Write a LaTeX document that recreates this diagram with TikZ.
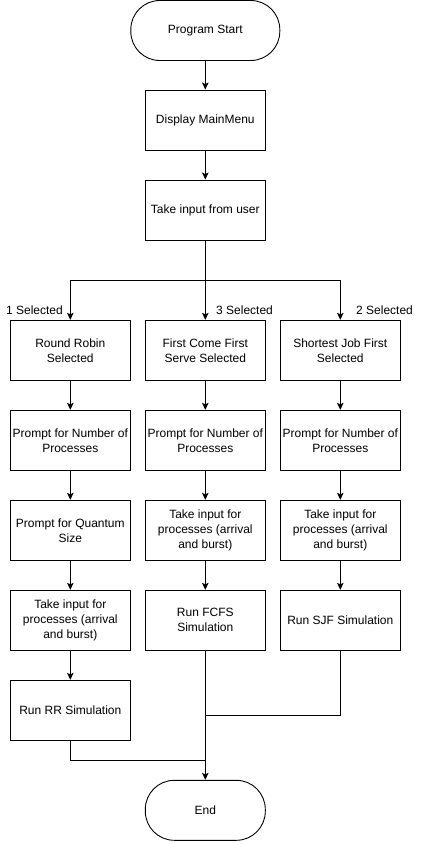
\documentclass[tikz,border=0pt]{standalone}
\usepackage{fontspec}
\setmainfont{Liberation Sans}
\usetikzlibrary{arrows.meta}
\begin{document}
\begin{tikzpicture}[x=1pt,y=-1pt,
  txt/.style={font=\fontsize{12}{15}\selectfont},
  box/.style={draw, line width=0.9pt, minimum width=120pt, minimum height=60pt, inner sep=0pt, align=center, txt},
  term/.style={box, rounded corners=29pt},
  ln/.style={draw, line width=0.9pt},
  arr/.style={ln, -{Stealth[length=7pt,width=6.5pt,inset=1.5pt]}},
  lab/.style={txt, inner sep=0pt}]
\useasboundingbox (0,0) rectangle (422,844);
\node[term, minimum width=149pt] (start) at (205.3,30.5) {Program Start};
\node[box] (menu) at (205.3,120) {Display MainMenu};
\node[box] (input) at (205.3,210) {Take input from user};
% row 1
\node[box] (rr1) at (70.3,350.3) {Round Robin\\Selected};
\node[box] (fc1) at (205.3,350.3) {First Come First\\Serve Selected};
\node[box] (sj1) at (340.3,350.3) {Shortest Job First\\Selected};
% row 2
\node[box] (rr2) at (70.3,440.3) {Prompt for Number of\\Processes};
\node[box] (fc2) at (205.3,440.3) {Prompt for Number of\\Processes};
\node[box] (sj2) at (340.3,440.3) {Prompt for Number of\\Processes};
% row 3
\node[box] (rr3) at (70.3,530.3) {Prompt for Quantum\\Size};
\node[box] (fc3) at (205.3,530.3) {Take input for\\processes (arrival\\and burst)};
\node[box] (sj3) at (340.3,530.3) {Take input for\\processes (arrival\\and burst)};
% row 4
\node[box] (rr4) at (70.3,620.3) {Take input for\\processes (arrival\\and burst)};
\node[box] (fc4) at (205.3,620.3) {Run FCFS\\Simulation};
\node[box] (sj4) at (340.3,620.3) {Run SJF Simulation};
% row 5
\node[box] (rr5) at (70.3,710.3) {Run RR Simulation};
\node[term] (end) at (205.3,810.3) {End};
% labels
\node[lab, anchor=east] (l1) at (63,310) {1 Selected};
\node[lab, anchor=west] (l3) at (216,310) {3 Selected};
\node[lab, anchor=west] (l2) at (356,310) {2 Selected};
% connectors
\draw[arr] (start) -- (menu);
\draw[arr] (menu) -- (input);
\coordinate (br) at (205.3,280.7);
\draw[arr] (input) -- (fc1);
\draw[arr] (br) -| (rr1.north);
\draw[arr] (br) -| (sj1.north);
\draw[arr] (rr1) -- (rr2);
\draw[arr] (fc1) -- (fc2);
\draw[arr] (sj1) -- (sj2);
\draw[arr] (rr2) -- (rr3);
\draw[arr] (fc2) -- (fc3);
\draw[arr] (sj2) -- (sj3);
\draw[arr] (rr3) -- (rr4);
\draw[arr] (fc3) -- (fc4);
\draw[arr] (sj3) -- (sj4);
\draw[arr] (rr4) -- (rr5);
\draw[arr] (fc4) -- (end);
\coordinate (m1) at (205.3,715.3);
\coordinate (m2) at (205.3,760.3);
\draw[ln] (sj4.south) |- (m1);
\draw[ln] (rr5.south) |- (m2);
\end{tikzpicture}
\end{document}
